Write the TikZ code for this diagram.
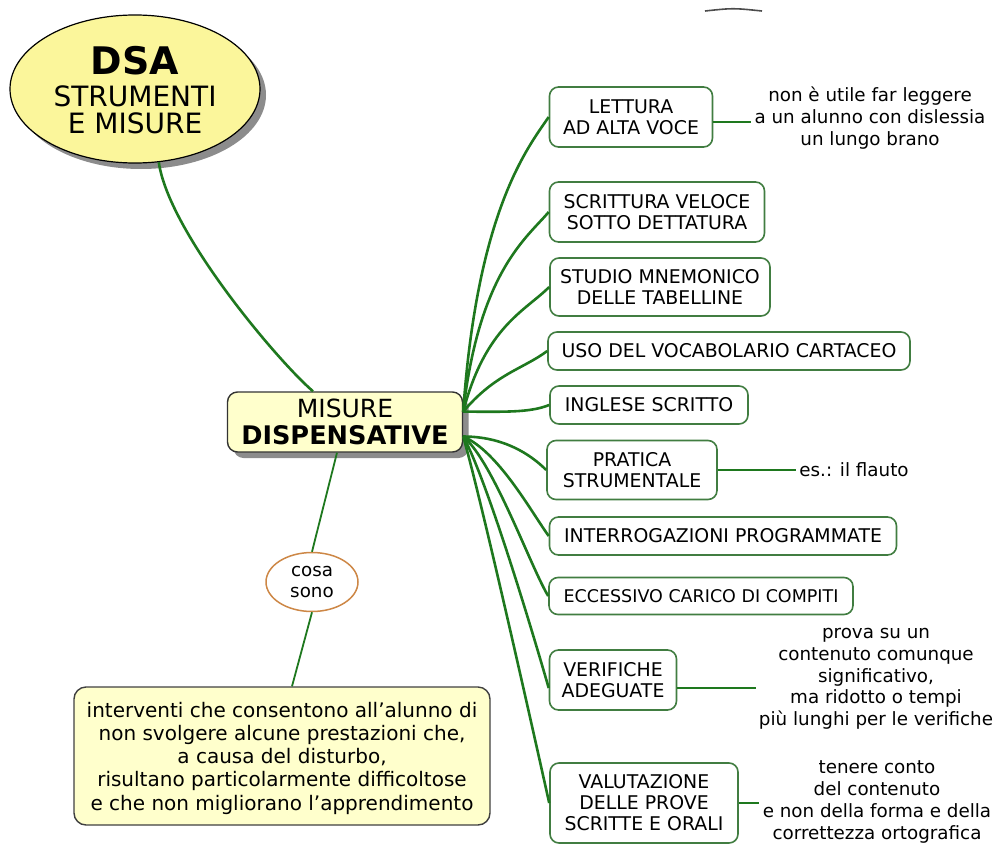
\documentclass[tikz,border=0pt]{standalone}
\usepackage{fontspec}
\setmainfont{DejaVu Sans}
\usetikzlibrary{shapes.geometric,shadows}

\definecolor{verderamo}{RGB}{30,120,30}
\definecolor{bordoverde}{RGB}{65,125,65}
\definecolor{gialloDSA}{RGB}{251,246,155}
\definecolor{giallino}{RGB}{255,255,204}
\definecolor{arancio}{RGB}{205,135,70}

\tikzset{every picture/.style={line width=0.75pt}}

\begin{document}
\begin{tikzpicture}[x=1pt,y=1pt,yscale=-1,xscale=1,
	voce/.style={draw=bordoverde,line width=1.6pt,rounded corners=9pt,fill=white,align=center,inner sep=0pt,font=\fontsize{18.9}{21}\selectfont},
	nota/.style={align=center,inner sep=3pt,font=\fontsize{18.3}{21.7}\selectfont},
	ramo/.style={draw=verderamo,line width=2.6pt},
	filo/.style={draw=verderamo,line width=1.8pt},
	ombra/.style={drop shadow={shadow xshift=6pt,shadow yshift=-6pt,fill=black!45,opacity=1}}]
	%set diagram area
	\useasboundingbox (0,0) rectangle (1006,843);
	
	%Shape: Ellipse [DSA]
	\node[ellipse,draw=black,line width=1.2pt,fill=gialloDSA,ombra,minimum width=250,minimum height=148,inner sep=0pt] (dsa) at (135,89) {};
	% Text Node
	\node[align=center,font=\fontsize{28}{26.5}\selectfont] (dsatxt) at (135,90) {{\fontsize{38}{38}\selectfont\bfseries DSA}\\[6pt]STRUMENTI\\E MISURE};
	
	%Shape: Rounded Rectangle [MISURE DISPENSATIVE]
	\node[draw=black!80,line width=1.4pt,rounded corners=10pt,fill=giallino,ombra,minimum width=235,minimum height=60,inner sep=0pt,align=center,font=\fontsize{25}{27}\selectfont] (misure) at (345,422) {{\fontsize{25}{27}\selectfont MISURE}\\{\fontsize{25.6}{27}\selectfont\bfseries DISPENSATIVE}};
	
	%Shape: Ellipse [cosa sono]
	\node[ellipse,draw=arancio,line width=1.5pt,fill=white,minimum width=92,minimum height=59,inner sep=0pt,align=center,font=\fontsize{18.3}{21}\selectfont] (cosa) at (312,582) {cosa\\sono};
	
	%Shape: Rounded Rectangle [definizione]
	\node[draw=black!75,line width=1.4pt,rounded corners=12pt,fill=giallino,minimum width=416,minimum height=138,inner sep=0pt,text depth=0pt,align=center,font=\fontsize{20}{23.3}\selectfont] (defin) at (282,756) {interventi che consentono all’alunno di\\non svolgere alcune prestazioni che,\\a causa del disturbo,\\risultano particolarmente difficoltose\\e che non migliorano l’apprendimento};
	
	%Shapes: boxes on the right
	\node[voce,minimum width=163,minimum height=60] (lettura) at (631,117) {LETTURA\\AD ALTA VOCE};
	\node[voce,minimum width=215,minimum height=60] (scrittura) at (657,212) {SCRITTURA VELOCE\\SOTTO DETTATURA};
	\node[voce,minimum width=220,minimum height=58] (studio) at (660,287) {STUDIO MNEMONICO\\DELLE TABELLINE};
	\node[voce,minimum width=362,minimum height=38] (uso) at (729,351) {USO DEL VOCABOLARIO CARTACEO};
	\node[voce,minimum width=198,minimum height=38] (inglese) at (649,405) {INGLESE SCRITTO};
	\node[voce,minimum width=170,minimum height=59] (pratica) at (632,470) {PRATICA\\STRUMENTALE};
	\node[voce,minimum width=347,minimum height=38] (interr) at (723,536) {INTERROGAZIONI PROGRAMMATE};
	\node[voce,minimum width=304,minimum height=37,font=\fontsize{17.5}{21}\selectfont] (eccessivo) at (701,596) {ECCESSIVO CARICO DI COMPITI};
	\node[voce,minimum width=127,minimum height=60] (verifiche) at (613,680) {VERIFICHE\\ADEGUATE};
	\node[voce,minimum width=188,minimum height=80] (valutaz) at (644,803) {VALUTAZIONE\\DELLE PROVE\\SCRITTE E ORALI};
	
	% Text Node
	\node[nota] (notalett) at (870,118) {non è utile far leggere\\a un alunno con dislessia\\un lungo brano};
	% Text Node
	\node[nota] (notaprat) at (854,470) {es.: il flauto};
	% Text Node
	\node[nota] (notaver) at (876,679) {prova su un\\contenuto comunque\\significativo,\\ma ridotto o tempi\\più lunghi per le verifiche};
	% Text Node
	\node[nota] (notaval) at (877,802) {tenere conto\\del contenuto\\e non della forma e della\\correttezza ortografica};
	
	%Curve Lines
	\draw[ramo] (dsa.-72) .. controls +(10,70) and +(-35,-30) .. ([xshift=-32pt]misure.north);
	\draw[filo] ([xshift=-8pt]misure.south) -- (cosa.north);
	\draw[filo] (cosa.south) -- ([xshift=10pt]defin.north);
	
	%Branches
	\draw[ramo] (misure.5) .. controls +(14,-200) and +(-22,32) .. (lettura.west);
	\draw[ramo] (misure.5) .. controls +(16,-140) and +(-22,26) .. (scrittura.west);
	\draw[ramo] (misure.5) .. controls +(22,-85) and +(-24,24) .. (studio.west);
	\draw[ramo] (misure.5) .. controls +(32,-38) and +(-24,18) .. (uso.west);
	\draw[ramo] (misure.5) .. controls +(40,0) and +(-20,8) .. (inglese.west);
	\draw[ramo] (misure.-7) .. controls +(40,0) and +(-16,-16) .. (pratica.west);
	\draw[ramo] (misure.-7) .. controls +(35,15) and +(-18,-25) .. (interr.west);
	\draw[ramo] (misure.-7) .. controls +(30,25) and +(-18,-30) .. (eccessivo.west);
	\draw[ramo] (misure.-7) .. controls +(25,45) and +(-10,-35) .. ([yshift=8pt]verifiche.west);
	\draw[ramo] (misure.-7) .. controls +(20,70) and +(-10,-45) .. (valutaz.west);
	
	%Straight Lines to notes
	\draw[filo] ([yshift=5pt]lettura.east) -- ([yshift=5pt]lettura.east -| notalett.west);
	\draw[filo] (pratica.east) -- (pratica.east -| notaprat.west);
	\draw[filo] ([yshift=8pt]verifiche.east) -- ([yshift=8pt]verifiche.east -| notaver.west);
	\draw[filo] (valutaz.east) -- (valutaz.east -| notaval.west);
	
	%Shape: stray mark at top
	\draw[black!70,line width=1.6pt] (705,11) .. controls (733,8) .. (762,11);
	
\end{tikzpicture}
\end{document}
